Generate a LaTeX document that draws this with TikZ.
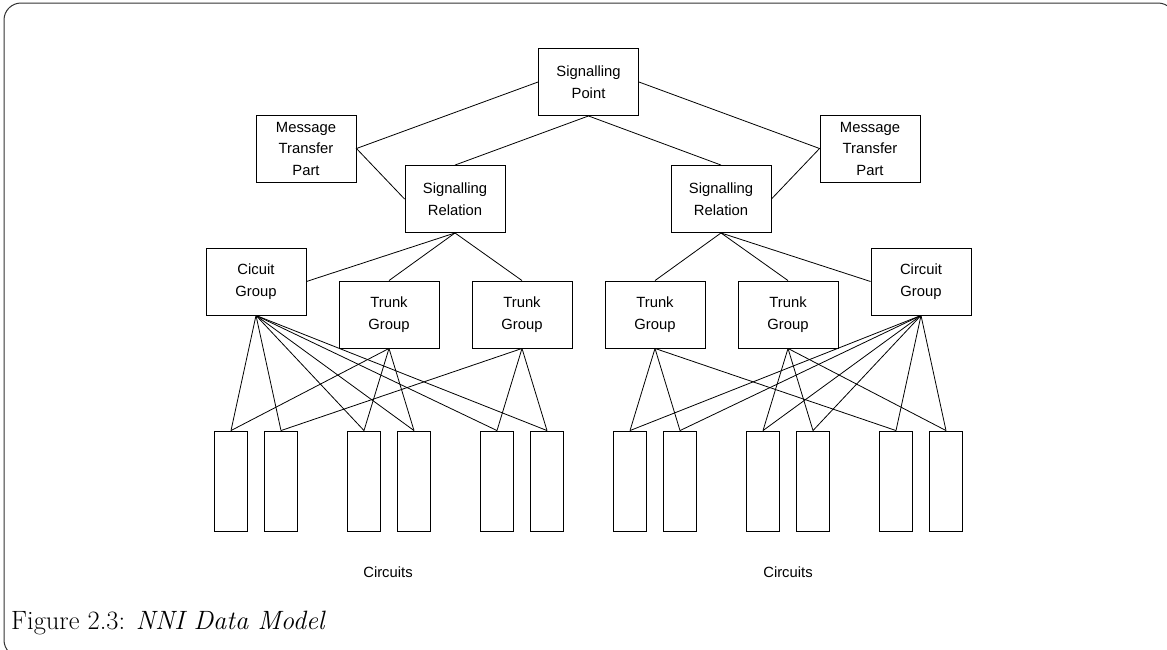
\documentclass[tikz,border=0pt]{standalone}
\usepackage{fontspec}
\setsansfont{Liberation Sans}
\begin{document}
\begin{tikzpicture}[x=1pt,y=-1pt,
  box/.style={draw=black,line width=0.9pt,minimum width=100pt,minimum height=67pt,inner sep=0pt,align=center,
    font=\sffamily\fontsize{14.8}{21.5}\selectfont},
  circ/.style={draw=black,line width=0.9pt,minimum width=33pt,minimum height=100pt,inner sep=0pt},
  lbl/.style={inner sep=0pt,font=\sffamily\fontsize{14.8}{21.5}\selectfont},
  link/.style={line width=0.8pt}]
\useasboundingbox (0,0) rectangle (1167,649);
\begin{scope}
\clip (0,0) rectangle (1167,649);
\draw[black!80,line width=1pt,rounded corners=17pt] (4,3) rectangle (1175,657);
\end{scope}
% top level
\node[box] (sp) at (588.5,82) {Signalling\\Point};
\node[box] (mtpl) at (306,148.5) {Message\\Transfer\\Part};
\node[box] (mtpr) at (870,148.5) {Message\\Transfer\\Part};
\node[box] (srl) at (455,199) {Signalling\\Relation};
\node[box] (srr) at (721,199) {Signalling\\Relation};
\node[box] (cgl) at (256,281.5) {Cicuit\\Group};
\node[box] (tg1) at (389,314.5) {Trunk\\Group};
\node[box] (tg2) at (522,314.5) {Trunk\\Group};
\node[box] (tg3) at (655,314.5) {Trunk\\Group};
\node[box] (tg4) at (788,314.5) {Trunk\\Group};
\node[box] (cgr) at (921,281.5) {Circuit\\Group};
% circuits
\foreach \g/\n in {256/1,389/3,522/5,655/7,788/9,921/11}{
  \node[circ] (c\n) at (\g-25,481) {};
}
\foreach \g/\n in {256/2,389/4,522/6,655/8,788/10,921/12}{
  \node[circ] (c\n) at (\g+25,481) {};
}
\node[lbl] (cl) at (388,572) {Circuits};
\node[lbl] (cr) at (788,572) {Circuits};
\node[anchor=base west,inner sep=0pt,font=\fontsize{26.5}{30}\selectfont] (cap) at (11,629) {Figure 2.3: \textit{NNI Data Model}};
% links
\draw[link] (sp.west) -- (mtpl.east) -- (srl.west);
\draw[link] (sp.east) -- (mtpr.west) -- (srr.east);
\draw[link] (sp.south) -- (srl.north);
\draw[link] (sp.south) -- (srr.north);
\foreach \t in {cgl.east,tg1.north,tg2.north}{\draw[link] (srl.south) -- (\t);}
\foreach \t in {cgr.west,tg3.north,tg4.north}{\draw[link] (srr.south) -- (\t);}
\foreach \c in {1,...,6}{\draw[link] (cgl.south) -- (c\c.north);}
\foreach \c in {7,...,12}{\draw[link] (cgr.south) -- (c\c.north);}
\foreach \c in {1,3,4}{\draw[link] (tg1.south) -- (c\c.north);}
\foreach \c in {2,5,6}{\draw[link] (tg2.south) -- (c\c.north);}
\foreach \c in {7,8,11}{\draw[link] (tg3.south) -- (c\c.north);}
\foreach \c in {9,10,12}{\draw[link] (tg4.south) -- (c\c.north);}
\end{tikzpicture}
\end{document}
